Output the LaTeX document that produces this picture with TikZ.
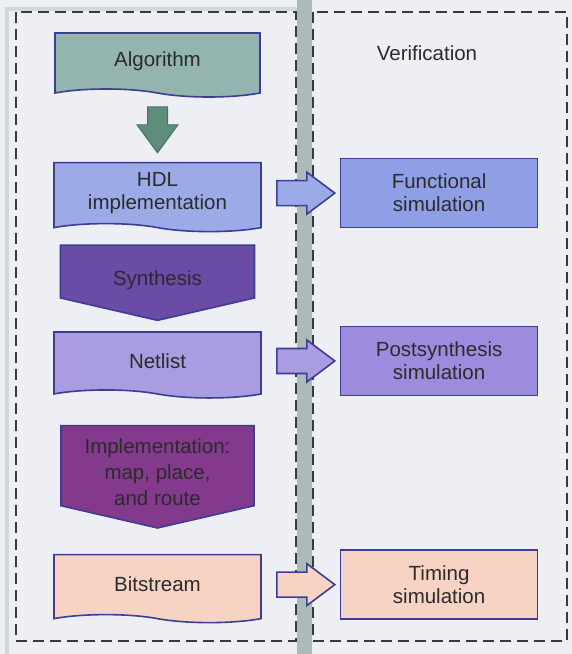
\documentclass[tikz,border=0pt]{standalone}
\usepackage{fontspec}
\setmainfont{Liberation Sans}
\usetikzlibrary{shapes.symbols, calc, positioning}

\definecolor{bgcol}{HTML}{EDEFF5}
\definecolor{bandcol}{HTML}{A9BCB9}
\definecolor{dashcol}{HTML}{3A3A3A}
\definecolor{edgecol}{HTML}{3C3D96}
\definecolor{txtcol}{HTML}{2B2B2B}
\definecolor{algcol}{HTML}{93B4AF}
\definecolor{greencol}{HTML}{5D8D7B}
\definecolor{hdlcol}{HTML}{9DAAE8}
\definecolor{funccol}{HTML}{8F9FE6}
\definecolor{syncol}{HTML}{6A4BA6}
\definecolor{netcol}{HTML}{AA9CE0}
\definecolor{postcol}{HTML}{9D8CDD}
\definecolor{implcol}{HTML}{833A8D}
\definecolor{bitcol}{HTML}{F7D3C3}

% fat arrow from a flow box to its simulation box
\newcommand\sidearrow[3]{%
  \draw[fatarrow, fill=#3] let \p1=(#1.east), \p2=(#2.west) in
    (\x1+15pt,\y2+12.5pt) -- (\x2-33pt,\y2+12.5pt) -- (\x2-33pt,\y2+21pt)
    -- (\x2-5pt,\y2) -- (\x2-33pt,\y2-21pt) -- (\x2-33pt,\y2-12.5pt)
    -- (\x1+15pt,\y2-12.5pt) -- cycle;}

\begin{document}
\begin{tikzpicture}[x=1pt, y=-1pt, font=\fontsize{20.5}{23}\selectfont, text=txtcol,
  doc/.style={tape, tape bend top=none, tape bend bottom=out and in, tape bend height=8pt, draw=edgecol, line width=1.6pt, minimum width=207pt, minimum height=69pt, align=center, inner sep=0pt},
  stage/.style={signal, signal to=south, signal pointer angle=154, draw=edgecol, line width=1.6pt, minimum width=194pt, align=center, inner sep=0pt},
  sim/.style={rectangle, draw=edgecol, line width=1.6pt, minimum width=197pt, minimum height=69pt, align=center},
  panel/.style={draw=dashcol, line width=1.6pt, dash pattern=on 11pt off 6pt},
  fatarrow/.style={draw=edgecol, line width=1.6pt, line join=miter}]
\useasboundingbox (0,0) rectangle (572,654);
\fill[bgcol] (0,0) rectangle (572,654);
\draw[bandcol!55, line width=4pt] (7,654) -- (7,9) -- (300,9);
\fill[bandcol] (297,0) rectangle (312,654);
\draw[panel] (16,12) rectangle (296,641);
\draw[panel] (313,12) rectangle (567,641);

% design flow
\node[doc, fill=algcol, minimum width=205pt, minimum height=64pt] (alg) at (157.5,61) {Algorithm};
\node[doc, fill=hdlcol, below=72pt of alg] (hdl) {HDL\\implementation};
\node[stage, fill=syncol, minimum height=63pt, below=20pt of hdl] (synth) {\rule{0pt}{33pt}Synthesis};
\node[doc, fill=netcol, minimum height=66pt, below=10pt of synth] (netlist) {Netlist};
\node[stage, fill=implcol, minimum width=193pt, minimum height=97pt, font=\fontsize{20.5}{26}\selectfont, below=34pt of netlist] (impl) {\rule{0pt}{27pt}Implementation:\\map, place,\\and route};
\node[doc, fill=bitcol, minimum height=68pt, below=25pt of impl] (bits) {Bitstream};

% verification
\node (verif) at (427,53) {Verification};
\node[sim, fill=funccol, right=78pt of hdl] (funcsim) {Functional\\simulation};
\node[sim, fill=postcol, right=78pt of netlist] (postsim) {Postsynthesis\\simulation};
\node[sim, fill=bitcol, right=78pt of bits] (timsim) {Timing\\simulation};

\draw[fatarrow, draw=greencol!80!black, line width=1pt, fill=greencol] let \p1=(alg.south), \p2=(hdl.north) in
  (\x2-10pt,\y1-17pt) -- (\x2-10pt,\y2+37pt) -- (\x2-20.5pt,\y2+37pt) -- (\x2,\y2+9pt)
  -- (\x2+20.5pt,\y2+37pt) -- (\x2+10pt,\y2+37pt) -- (\x2+10pt,\y1-17pt) -- cycle;
\sidearrow{hdl}{funcsim}{hdlcol}
\sidearrow{netlist}{postsim}{netcol}
\sidearrow{bits}{timsim}{bitcol}
\end{tikzpicture}
\end{document}
